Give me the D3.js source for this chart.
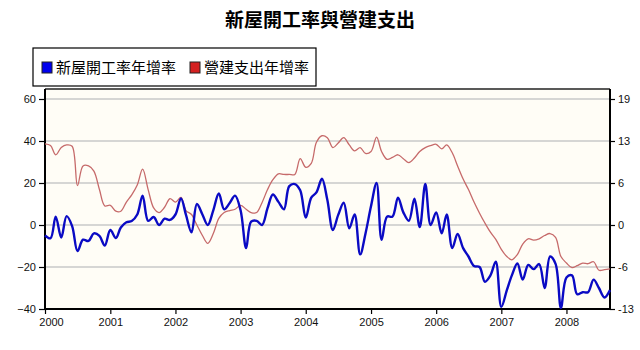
<!DOCTYPE html>
<html><head><meta charset="utf-8">
<script src="https://cdn.jsdelivr.net/npm/d3@7"></script>
<style>body{margin:0;background:#fff;}svg{display:block;}</style>
</head><body>
<script>
const title = "新屋開工率與營建支出";
const seriesNames = ["新屋開工率年增率", "營建支出年增率"];
const yearLabels = ["2000","2001","2002","2003","2004","2005","2006","2007","2008"];
const leftTicks = [60, 40, 20, 0, -20, -40];
const rightTicks = [19, 13, 6, 0, -6, -13];
const startMonth = "2000-01";
// 新屋開工率年增率 (%), monthly from 2000-01, left axis
const housingStarts = [-5,-6.3,4,-6,4.2,-0.5,-12.4,-7,-7.6,-4,-5.2,-9.8,
  -2.4,-6.2,-1.2,1.3,1.9,5,14,2,3.8,0,3,2.4,
  5,12.7,4.8,-3.5,10,5,0,7,15,7.5,10.5,14,
  7,-11,1.6,2,0,8,14.5,11,7.5,18.5,19.5,16.5,
  3.5,13,15.5,22,12,-2.4,4.8,10.6,-1.6,5,-14,-4,
  9,20,-7,4,4,13,6,2,12.5,-1,19.5,0,
  6,-4,5,-11,-4.3,-11,-15,-19.5,-20,-27,-24,-17.5,
  -39,-31,-24,-18.3,-26,-19,-21,-18.6,-30,-15,-18.5,-39.5,
  -25,-24,-33,-32,-32,-26,-30,-34.5,-31];
// 營建支出年增率 (%), monthly from 2000-01, right axis
const constructionSpending = [12.35,12.1,10.7,11.8,12.2,12.0,6.0,9.0,9.0,8.2,5.4,2.9,
  3.0,2.1,2.1,3.5,4.6,6.1,8.5,5.4,2.6,1.9,2.7,4.0,
  3.5,4.2,2.2,1.6,0,-1.6,-2.8,-1.3,1.0,1.9,2.2,2.4,
  3.0,2.4,1.9,1.9,3.4,5.4,6.9,7.8,7.7,7.7,7.7,10.1,
  8.8,9.4,12.6,13.6,13.3,11.8,12.5,13.3,12.2,11.3,11.8,10.9,
  11.2,13.4,11.2,10.0,10.3,10.7,10.1,9.5,10.2,11.2,11.8,12.1,
  12.3,11.6,12.2,11.0,9.0,7.0,5.4,3.5,1.8,0.3,-1.1,-2.2,
  -3.7,-4.8,-5.3,-4.5,-2.9,-2.1,-2.3,-2.1,-1.6,-1.3,-1.9,-4.8,
  -5.8,-6.5,-6.2,-5.8,-5.9,-5.6,-6.9,-6.8,-6.7];

const W = 640, H = 350;
const m = {left: 45, right: 610, top: 89, bottom: 309};
const svg = d3.select("body").append("svg").attr("width", W).attr("height", H)
  .style("font-family", "'Liberation Sans', Arial, sans-serif");

const t0 = d3.timeParse("%Y-%m")(startMonth);
const dates = housingStarts.map((d, i) => d3.timeMonth.offset(t0, i));
const x = d3.scaleTime().domain([dates[0], dates[dates.length - 1]]).range([m.left, m.right]);
const yL = d3.scaleLinear().domain([-40, 60]).range([m.bottom, 99]);
// right axis shares the grid: its labels are rounded values of left * 0.32
const yR = d3.scaleLinear().domain([-12.8, 19.2]).range([m.bottom, 99]);

// plot background
svg.append("rect").attr("x", m.left).attr("y", m.top)
  .attr("width", m.right - m.left).attr("height", m.bottom - m.top).attr("fill", "#fffdf6");

// gridlines
svg.append("g").selectAll("line").data(leftTicks.filter(d => d !== -40)).join("line")
  .attr("x1", m.left).attr("x2", m.right).attr("y1", d => yL(d)).attr("y2", d => yL(d))
  .attr("stroke", "#c8c8c8").attr("stroke-width", 1.5);

// top border
svg.append("line").attr("x1", m.left).attr("x2", m.right).attr("y1", m.top).attr("y2", m.top)
  .attr("stroke", "#222").attr("stroke-width", 1.5);

// axes
const axL = svg.append("g").attr("transform", `translate(${m.left},0)`)
  .call(d3.axisLeft(yL).tickValues(leftTicks).tickSize(6).tickPadding(3).tickSizeOuter(0));
const axR = svg.append("g").attr("transform", `translate(${m.right},0)`)
  .call(d3.axisRight(yL).tickValues(leftTicks).tickFormat((d, i) => rightTicks[i])
    .tickSize(5).tickPadding(3).tickSizeOuter(0));
const yearDates = yearLabels.map(y => new Date(+y, 0, 1));
const axB = svg.append("g").attr("transform", `translate(0,${m.bottom})`)
  .call(d3.axisBottom(x).tickValues(yearDates).tickFormat((d, i) => yearLabels[i]).tickSize(5).tickPadding(4).tickSizeOuter(0));
[axL, axR, axB].forEach(a => {
  a.select(".domain").attr("stroke", "#000").attr("stroke-width", 2);
  a.selectAll(".tick line").attr("stroke", "#000").attr("stroke-width", 1.2);
  a.selectAll(".tick text").attr("fill", "#111").style("font-size", "11px")
    .style("font-family", "'Liberation Sans', Arial, sans-serif");
});
axL.select(".domain").attr("d", `M0,${m.top}V${m.bottom}`);
axR.select(".domain").attr("d", `M0,${m.top}V${m.bottom}`);
axB.select(".domain").attr("d", `M${m.left - 1},0H${m.right + 1}`);
axB.selectAll(".tick text").filter((d, i) => i === 0).attr("dx", 6);

// lines
const curve = d3.curveCatmullRom.alpha(0.5);
svg.append("path").datum(constructionSpending)
  .attr("d", d3.line().x((d, i) => x(dates[i])).y(d => yR(d)).curve(curve))
  .attr("fill", "none").attr("stroke", "#c66a6a").attr("stroke-width", 1.3);
svg.append("path").datum(housingStarts)
  .attr("d", d3.line().x((d, i) => x(dates[i])).y(d => yL(d)).curve(curve))
  .attr("fill", "none").attr("stroke", "#0a0ac4").attr("stroke-width", 2.4)
  .attr("stroke-linejoin", "round");

// title
svg.append("text").attr("x", 320).attr("y", 27).attr("text-anchor", "middle")
  .style("font-family", "'Noto Sans CJK TC', sans-serif").style("font-size", "19px")
  .style("font-weight", "bold").attr("fill", "#000").text(title);

// legend
const lg = svg.append("g");
lg.append("rect").attr("x", 33).attr("y", 48).attr("width", 283).attr("height", 38)
  .attr("fill", "#fff").attr("stroke", "#000").attr("stroke-width", 1.2);
const legendColors = ["#0000ee", "#d42020"];
const legendX = [42, 190];
seriesNames.forEach((name, i) => {
  lg.append("rect").attr("x", legendX[i]).attr("y", 62).attr("width", 10).attr("height", 11)
    .attr("fill", legendColors[i]).attr("stroke", "#222").attr("stroke-width", 1);
  lg.append("text").attr("x", legendX[i] + 14).attr("y", 73)
    .style("font-family", "'Noto Sans CJK TC', sans-serif").style("font-size", "15px")
    .attr("fill", "#000").text(name);
});
</script>
</body></html>
